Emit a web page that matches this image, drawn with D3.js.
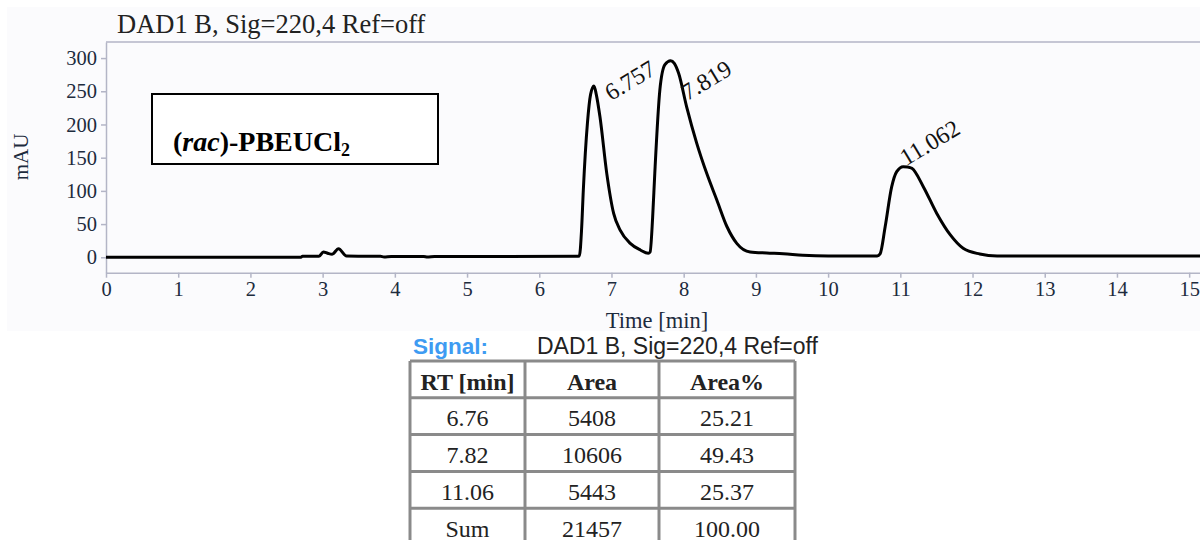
<!DOCTYPE html>
<html>
<head>
<meta charset="utf-8">
<script src="https://cdn.jsdelivr.net/npm/d3@7"></script>
<style>
  body { margin: 0; background: #ffffff; }
  svg { display: block; }
</style>
</head>
<body>
<svg id="chart" width="1200" height="540"></svg>
<script>
// chromatogram trace (time in min, signal in mAU)
var traceTime = [0, 2.70, 2.72, 2.95, 3.01, 3.07, 3.13, 3.22, 3.33, 3.80, 3.85, 3.95, 4.40, 4.45, 4.55, 6.52,
  6.555, 6.585, 6.61, 6.667, 6.71, 6.757, 6.79, 6.84, 6.935, 7.03, 7.12, 7.26, 7.40, 7.51,
  7.535, 7.57, 7.60, 7.67, 7.74, 7.819, 7.87, 7.93, 8.04, 8.18, 8.32, 8.46, 8.60, 8.735, 8.92,
  9.15, 9.38, 9.65, 10.0, 10.68, 10.72, 10.79, 10.88, 10.95, 11.04, 11.10, 11.16, 11.32, 11.505,
  11.69, 11.87, 12.10, 12.34, 15.15];
var traceValue = [0, 0, 1.5, 1.5, 8, 6, 4.5, 13, 2, 1.5, 0.5, 1.2, 1.2, 0.3, 1.2, 1.5,
  2, 40, 101, 202, 245, 258, 245, 212, 126, 66, 41, 21, 11, 6,
  8, 60, 127, 252, 290, 296, 292, 277, 227, 172, 126, 86, 46, 21, 8,
  6.5, 5.5, 3, 2, 2, 5, 46, 106, 129, 136.5, 136, 134, 106, 66,
  34, 13.5, 5, 2, 2];

// peak labels and where they sit (time, mAU)
var peakLabels = ["6.757", "7.819", "11.062"];
var peakLabelTime = [6.995, 8.05, 11.08];
var peakLabelValue = [235, 235, 137];

var xTicks = d3.range(0, 16);
var yTicks = [0, 50, 100, 150, 200, 250, 300];

// integration table
var tableHeader = ["RT [min]", "Area", "Area%"];
var tableRT = ["6.76", "7.82", "11.06", "Sum"];
var tableArea = ["5408", "10606", "5443", "21457"];
var tablePct = ["25.21", "49.43", "25.37", "100.00"];

var svg = d3.select("#chart");
var serif = "'Liberation Serif', 'Times New Roman', serif";
var sans = "'Liberation Sans', Arial, sans-serif";
var axisColor = "#b3b5c6";
var labelColor = "#1d2b3d";

var x = d3.scaleLinear().domain([0, 15.15]).range([106, 1200]);
var y = d3.scaleLinear().domain([-23.2, 324.2]).range([272.7, 42]);

// panel background
svg.append("rect")
  .attr("x", 7).attr("y", 7)
  .attr("width", 1193).attr("height", 324)
  .attr("fill", "#fbfbfd");

svg.append("text")
  .attr("x", 117).attr("y", 33)
  .attr("font-family", serif).attr("font-size", 26.5)
  .attr("fill", "#222")
  .text("DAD1 B, Sig=220,4 Ref=off");

// frame lines
svg.append("line")
  .attr("x1", 106).attr("x2", 1200)
  .attr("y1", 42).attr("y2", 42)
  .attr("stroke", axisColor).attr("stroke-width", 1.5);

var yAxis = svg.append("g")
  .attr("transform", "translate(106,0)")
  .call(d3.axisLeft(y).tickValues(yTicks).tickSize(5).tickPadding(4).tickSizeOuter(0));

var xAxis = svg.append("g")
  .attr("transform", "translate(0," + y.range()[0] + ")")
  .call(d3.axisBottom(x).tickValues(xTicks).tickSize(5).tickPadding(4).tickSizeOuter(0));

[yAxis, xAxis].forEach(function(g) {
  g.select(".domain").attr("stroke", axisColor).attr("stroke-width", 1.5);
  g.selectAll(".tick line").attr("stroke", axisColor).attr("stroke-width", 1.5);
  g.selectAll(".tick text")
    .attr("font-family", serif).attr("font-size", 20.5)
    .attr("fill", labelColor);
});

svg.append("text")
  .attr("transform", "translate(28,157)rotate(-90)")
  .attr("text-anchor", "middle")
  .attr("font-family", serif).attr("font-size", 21)
  .attr("fill", labelColor)
  .text("mAU");

svg.append("text")
  .attr("x", 657).attr("y", 328)
  .attr("text-anchor", "middle")
  .attr("font-family", serif).attr("font-size", 22.5)
  .attr("fill", labelColor)
  .text("Time [min]");

// the trace
var points = traceTime.map(function(t, i) { return [t, traceValue[i]]; });
var line = d3.line()
  .x(function(d) { return x(d[0]); })
  .y(function(d) { return y(d[1]); })
  .curve(d3.curveMonotoneX);

svg.append("path")
  .datum(points)
  .attr("d", line)
  .attr("fill", "none")
  .attr("stroke", "#000")
  .attr("stroke-width", 3)
  .attr("stroke-linejoin", "round");

svg.append("g")
  .selectAll("text")
  .data(peakLabels)
  .enter().append("text")
  .attr("transform", function(d, i) {
    return "translate(" + x(peakLabelTime[i]) + "," + y(peakLabelValue[i]) + ")rotate(-31)";
  })
  .attr("font-family", serif).attr("font-size", 24)
  .attr("fill", "#111")
  .text(function(d) { return d; });

// sample box
svg.append("rect")
  .attr("x", 152).attr("y", 94)
  .attr("width", 286).attr("height", 70)
  .attr("fill", "#fff")
  .attr("stroke", "#000").attr("stroke-width", 2);

var boxText = svg.append("text")
  .attr("x", 173).attr("y", 151)
  .attr("font-family", serif).attr("font-size", 28)
  .attr("font-weight", "bold")
  .attr("fill", "#000");
boxText.append("tspan").text("(");
boxText.append("tspan").attr("font-style", "italic").text("rac");
boxText.append("tspan").text(")-PBEUCl");
boxText.append("tspan").attr("font-size", 18).attr("dy", 5).text("2");

// integration results
svg.append("text")
  .attr("x", 413).attr("y", 354)
  .attr("font-family", sans).attr("font-size", 22.5)
  .attr("font-weight", "bold")
  .attr("fill", "#3e9bf2")
  .text("Signal:");

svg.append("text")
  .attr("x", 537).attr("y", 354)
  .attr("font-family", sans).attr("font-size", 23)
  .attr("fill", "#222")
  .text("DAD1 B, Sig=220,4 Ref=off");

var colEdges = [410, 525, 659, 795];
var rowTop = 361, rowH = 36.8;
var rows = [tableHeader].concat(tableRT.map(function(rt, i) {
  return [rt, tableArea[i], tablePct[i]];
}));

var table = svg.append("g");
table.selectAll("line.h")
  .data(d3.range(rows.length + 1))
  .enter().append("line")
  .attr("x1", colEdges[0]).attr("x2", colEdges[3])
  .attr("y1", function(d) { return rowTop + d * rowH; })
  .attr("y2", function(d) { return rowTop + d * rowH; })
  .attr("stroke", "#8a8a8a").attr("stroke-width", 3);
table.selectAll("line.v")
  .data(colEdges)
  .enter().append("line")
  .attr("x1", function(d) { return d; }).attr("x2", function(d) { return d; })
  .attr("y1", rowTop).attr("y2", rowTop + rows.length * rowH)
  .attr("stroke", "#8a8a8a").attr("stroke-width", 3);

rows.forEach(function(r, ri) {
  table.append("g").selectAll("text")
    .data(r)
    .enter().append("text")
    .attr("x", function(d, ci) { return (colEdges[ci] + colEdges[ci + 1]) / 2; })
    .attr("y", rowTop + ri * rowH + 28.5)
    .attr("text-anchor", "middle")
    .attr("font-family", serif).attr("font-size", 24)
    .attr("font-weight", ri === 0 ? "bold" : "normal")
    .attr("fill", "#222")
    .text(function(d) { return d; });
});
</script>
</body>
</html>
